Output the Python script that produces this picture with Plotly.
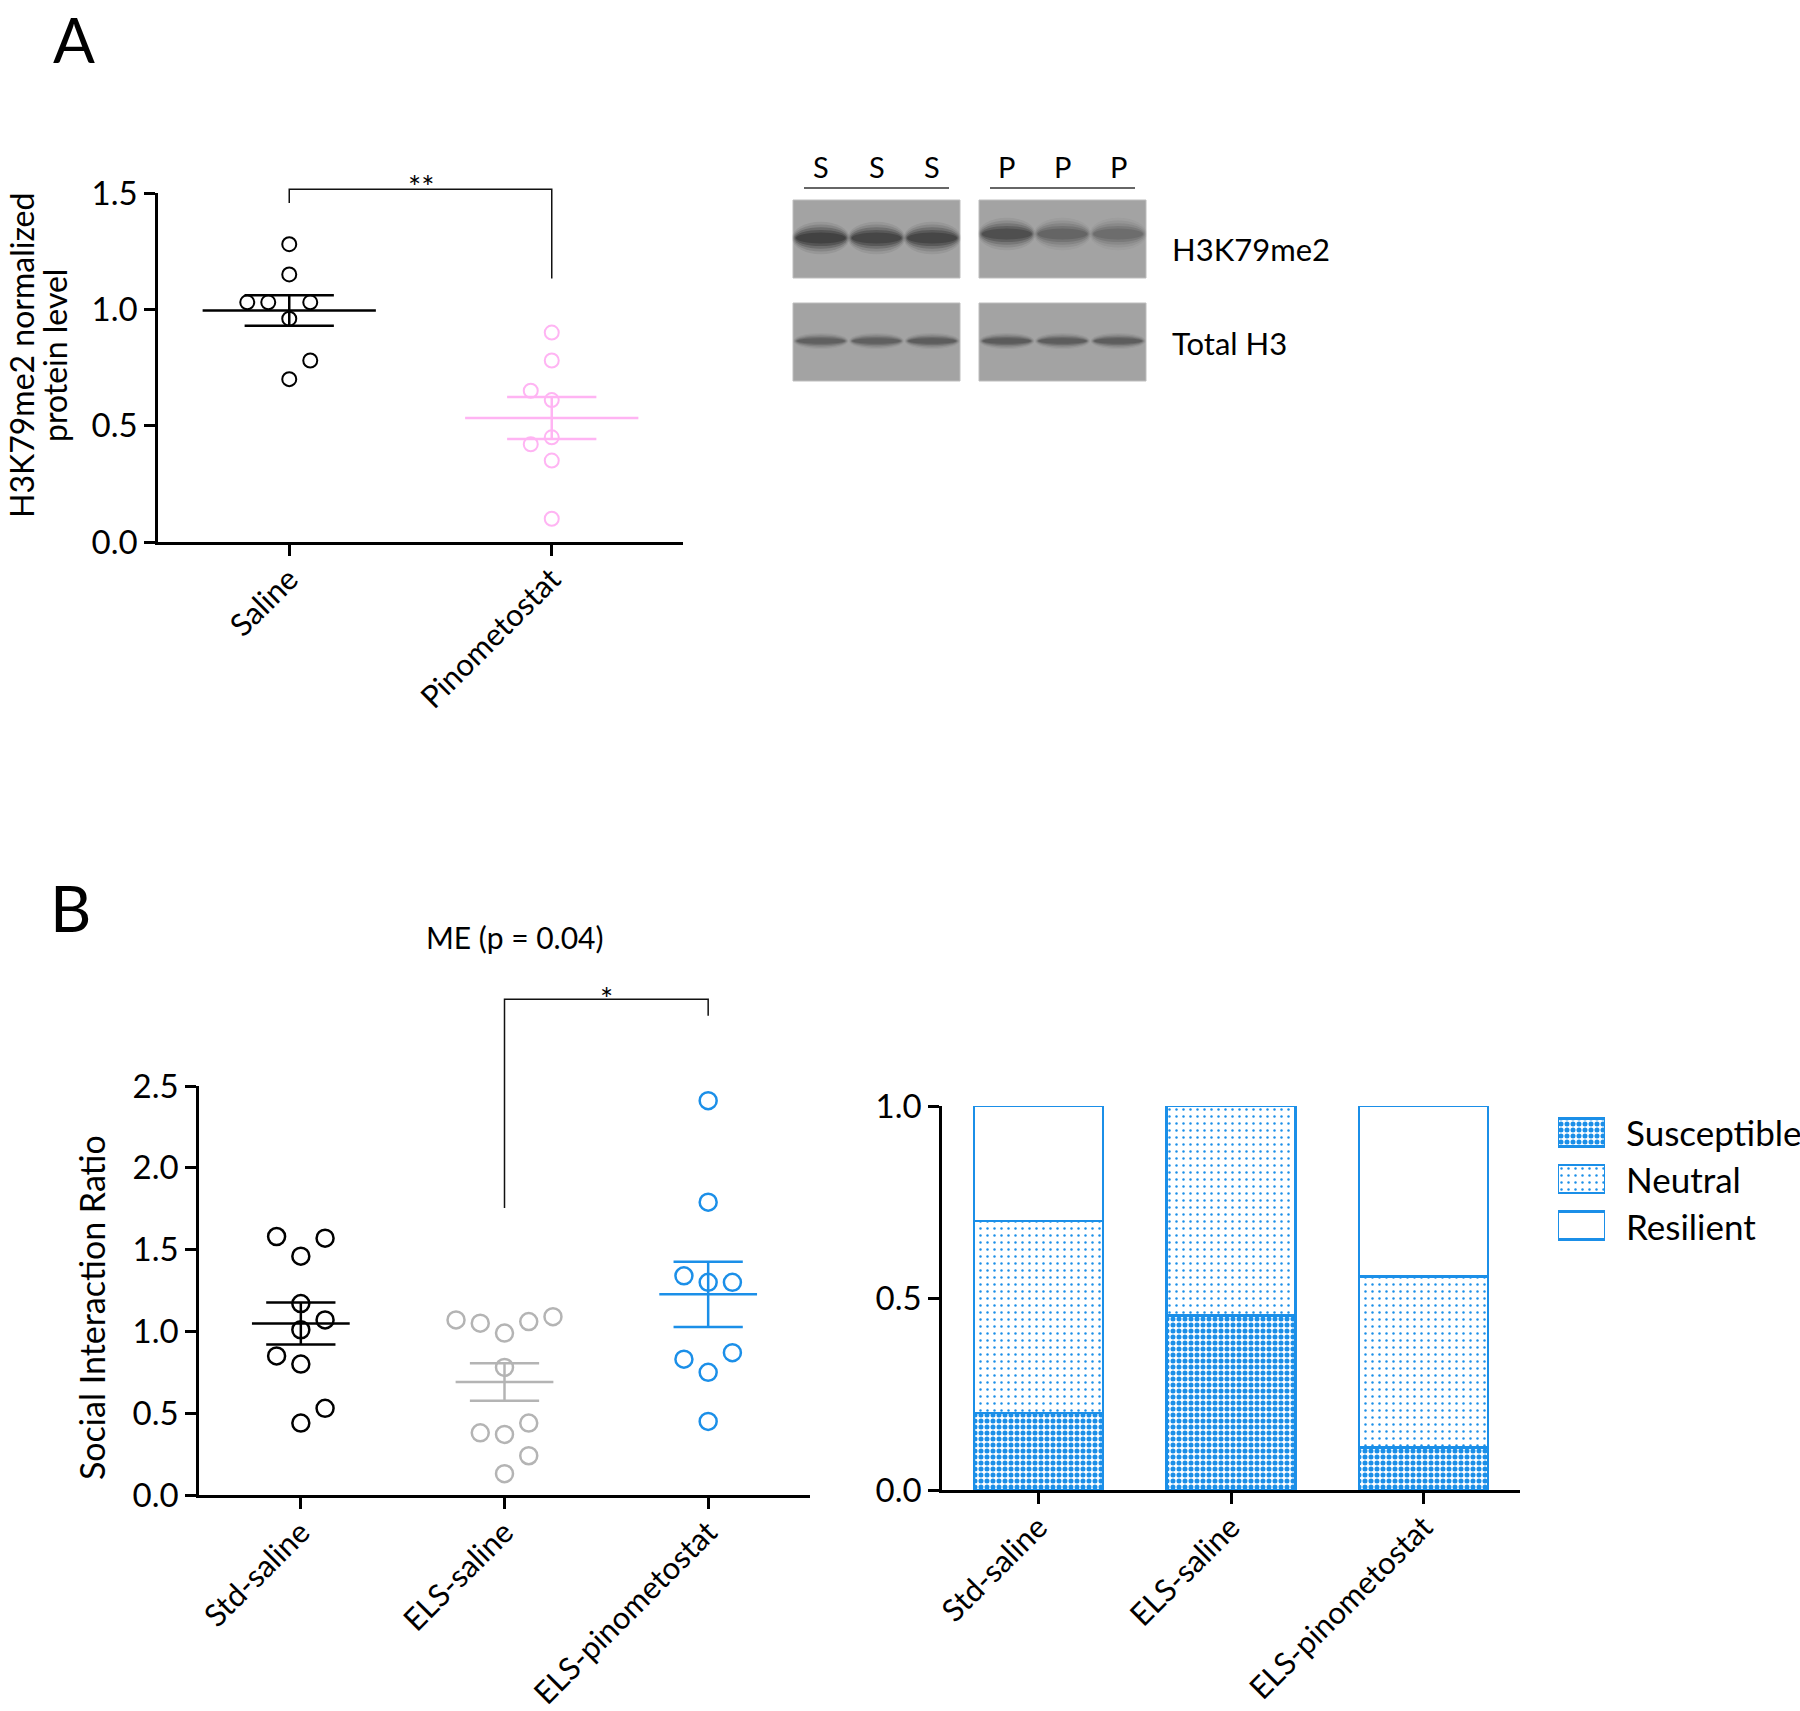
import numpy as np
import plotly.graph_objects as go

# ---------------- data ----------------
# Panel A: H3K79me2 normalized protein level
a_groups = ["Saline", "Pinometostat"]
a_saline = [1.28, 1.15, 1.03, 1.03, 1.03, 0.96, 0.78, 0.70]
a_pino = [0.90, 0.78, 0.65, 0.61, 0.45, 0.42, 0.35, 0.10]
a_yticks = [0.0, 0.5, 1.0, 1.5]

# Panel B: social interaction ratio
b_groups = ["Std-saline", "ELS-saline", "ELS-pinometostat"]
b_std_saline = [1.58, 1.57, 1.46, 1.17, 1.07, 1.01, 0.85, 0.80, 0.53, 0.44]
b_els_saline = [1.07, 1.05, 0.99, 1.06, 1.09, 0.78, 0.44, 0.38, 0.37, 0.24, 0.13]
b_els_pino = [2.41, 1.79, 1.34, 1.30, 1.30, 0.87, 0.83, 0.75, 0.45]
b_yticks = [0.0, 0.5, 1.0, 1.5, 2.0, 2.5]

# Panel B right: phenotype proportions
phenotypes = ["Susceptible", "Neutral", "Resilient"]
prop_susceptible = [2 / 10, 5 / 11, 1 / 9]
prop_neutral = [5 / 10, 6 / 11, 4 / 9]
prop_resilient = [3 / 10, 0 / 11, 4 / 9]
prop_yticks = [0.0, 0.5, 1.0]

# Western blot lanes (S = saline, P = pinometostat), relative band darkness
blot_lanes = ["S", "S", "S", "P", "P", "P"]
blot_h3k79me2 = [0.95, 0.90, 0.90, 0.75, 0.50, 0.42]
blot_total_h3 = [0.55, 0.55, 0.60, 0.62, 0.60, 0.60]
blot_rows = ["H3K79me2", "Total H3"]

# ---------------- layout helpers / styles ----------------
W, H = 1800, 1711
FONT = "Lato"
BLACK = "#000000"
PINK = "#FFB4F3"
GRAY = "#B4B4B4"
BLUE = "#1B8FE8"


def px(x):
    return x / W


def py(y):
    return 1 - y / H


# jitter slots (horizontal spreading of overlapping dots), layout only
jit_a = {"Saline": [0, 0, -2, -1, 1, 0, 1, 0], "Pinometostat": [0, 0, -1, 0, 0, -1, 0, 0]}
jit_b = {
    "Std-saline": [-1, 1, 0, 0, 1, 0, -1, 0, 1, 0],
    "ELS-saline": [-2, -1, 0, 1, 2, 0, 1, -1, 0, 1, 0],
    "ELS-pinometostat": [0, 0, -1, 0, 1, 1, -1, 0, 0],
}

# axis domains (paper)
A_X = [px(158), px(683)]
A_Y = [py(542), py(193)]
A_YR = [0, 1.5]
B_X = [px(199), px(810)]
B_Y = [py(1495), py(1086)]
B_YR = [0, 2.5]
C_X = [px(942), px(1520)]
C_Y = [py(1490), py(1106)]
L_X = [px(1558), px(1605)]
L_Y = [py(1249), py(1109)]
XR2 = [-0.5, 1.5]
XR3 = [-0.5, 2.5]


def to_paper(dom, rng, v):
    return dom[0] + (v - rng[0]) / (rng[1] - rng[0]) * (dom[1] - dom[0])


fig = go.Figure()


def add_dot_group(values, idx, slots, step, color, size, lw, xa, ya, hw_mean, hw_sem):
    vals = np.array(values)
    xs = [idx + s * step for s in slots]
    fig.add_trace(go.Scatter(
        x=xs, y=vals, mode="markers", xaxis=xa, yaxis=ya, showlegend=False,
        marker=dict(symbol="circle-open", size=size, color=color, line=dict(width=lw)),
        cliponaxis=False, hoverinfo="y"))
    m = vals.mean()
    sem = vals.std(ddof=1) / np.sqrt(len(vals))
    lx = [idx - hw_mean, idx + hw_mean, None,
          idx - hw_sem, idx + hw_sem, None,
          idx - hw_sem, idx + hw_sem, None,
          idx, idx]
    ly = [m, m, None, m + sem, m + sem, None, m - sem, m - sem, None, m - sem, m + sem]
    fig.add_trace(go.Scatter(x=lx, y=ly, mode="lines", xaxis=xa, yaxis=ya, showlegend=False,
                             line=dict(color=color, width=2.5), hoverinfo="skip"))


# Panel A dots
add_dot_group(a_saline, 0, jit_a["Saline"], 0.08, BLACK, 14, 2, "x", "y", 0.33, 0.17)
add_dot_group(a_pino, 1, jit_a["Pinometostat"], 0.08, PINK, 14, 2, "x", "y", 0.33, 0.17)

# Panel B dots
b_colors = [BLACK, GRAY, BLUE]
for i, (g, vals) in enumerate(zip(b_groups, [b_std_saline, b_els_saline, b_els_pino])):
    add_dot_group(vals, i, jit_b[g], 0.119, b_colors[i], 17, 2.5, "x2", "y2", 0.24, 0.17)

# Panel B stacked bars
pat_s = dict(shape=".", size=6, solidity=0.55, fgcolor=BLUE, bgcolor="white", fillmode="replace")
pat_n = dict(shape=".", size=7, solidity=0.1, fgcolor=BLUE, bgcolor="white", fillmode="replace")
patterns = [pat_s, pat_n, None]
for name, vals, pat in zip(phenotypes, [prop_susceptible, prop_neutral, prop_resilient], patterns):
    mk = dict(color="white", line=dict(color=BLUE, width=2.5))
    if pat:
        mk["pattern"] = pat
    fig.add_trace(go.Bar(x=[0, 1, 2], y=vals, name=name, xaxis="x3", yaxis="y3", showlegend=False,
                         width=0.67, marker=mk, cliponaxis=False))

# legend swatches (drawn as bars in a small hidden subplot so patterns match)
for r, (name, pat) in enumerate(zip(phenotypes, patterns)):
    mk = dict(color="white", line=dict(color=BLUE, width=2.5))
    if pat:
        mk["pattern"] = pat
    fig.add_trace(go.Bar(x=[1], y=[r], base=[0], orientation="h", xaxis="x4", yaxis="y4", showlegend=False,
                         width=0.6, marker=mk, cliponaxis=False, hoverinfo="skip"))

tickfont = dict(family=FONT, size=33, color=BLACK)
catfont = dict(family=FONT, size=31, color=BLACK)
axcommon = dict(showgrid=False, zeroline=False, showline=True, linecolor=BLACK, linewidth=2.5,
                ticks="outside", tickwidth=2.5, tickcolor=BLACK, ticklen=11, automargin=False)
xcat = dict(tickangle=-45, tickfont=catfont, ticklabelstandoff=-7)
hidden = dict(visible=False, showgrid=False, zeroline=False, automargin=False, fixedrange=True)

fig.update_layout(
    width=W, height=H, margin=dict(l=0, r=0, t=0, b=0, autoexpand=False),
    paper_bgcolor="white", plot_bgcolor="rgba(0,0,0,0)",
    barmode="stack", showlegend=False,
    xaxis=dict(domain=A_X, range=XR2, anchor="y", tickmode="array", tickvals=[0, 1], ticktext=a_groups,
               **xcat, **axcommon),
    yaxis=dict(domain=A_Y, range=A_YR, anchor="x", tickmode="array", tickvals=a_yticks,
               ticktext=[f"{v:.1f}" for v in a_yticks], tickfont=tickfont, **axcommon),
    xaxis2=dict(domain=B_X, range=XR3, anchor="y2", tickmode="array", tickvals=[0, 1, 2], ticktext=b_groups,
                **xcat, **axcommon),
    yaxis2=dict(domain=B_Y, range=B_YR, anchor="x2", tickmode="array", tickvals=b_yticks,
                ticktext=[f"{v:.1f}" for v in b_yticks], tickfont=tickfont, **axcommon),
    xaxis3=dict(domain=C_X, range=XR3, anchor="y3", tickmode="array", tickvals=[0, 1, 2], ticktext=b_groups,
                **xcat, **axcommon),
    yaxis3=dict(domain=C_Y, range=[0, 1], anchor="x3", tickmode="array", tickvals=prop_yticks,
                ticktext=[f"{v:.1f}" for v in prop_yticks], tickfont=tickfont, **axcommon),
    xaxis4=dict(domain=L_X, range=[0, 1], anchor="y4", **hidden),
    yaxis4=dict(domain=L_Y, range=[2.5, -0.5], anchor="x4", **hidden),
    font=dict(family=FONT, color=BLACK),
)

shapes = []
annos = []


def note(text, x, y, size, xanchor="center", yanchor="middle", angle=0):
    annos.append(dict(text=text, x=x, y=y, xref="paper", yref="paper", showarrow=False,
                      xanchor=xanchor, yanchor=yanchor, textangle=angle,
                      font=dict(family=FONT, size=size, color=BLACK)))


def bracket(xdom, xr, ydom, yr, x0, x1, y_left, y_top, y_right):
    X0 = to_paper(xdom, xr, x0)
    X1 = to_paper(xdom, xr, x1)
    pts = [(X0, to_paper(ydom, yr, y_left)), (X0, to_paper(ydom, yr, y_top)),
           (X1, to_paper(ydom, yr, y_top)), (X1, to_paper(ydom, yr, y_right))]
    path = "M " + " L ".join(f"{a},{b}" for a, b in pts)
    shapes.append(dict(type="path", path=path, xref="paper", yref="paper",
                       line=dict(color="#111", width=1.5)))


bracket(A_X, XR2, A_Y, A_YR, 0, 1, 1.457, 1.516, 1.133)
note("**", to_paper(A_X, XR2, 0.5), to_paper(A_Y, A_YR, 1.53), 31)
bracket(B_X, XR3, B_Y, B_YR, 1, 2, 1.754, 3.03, 2.93)
note("*", to_paper(B_X, XR3, 1.5), to_paper(B_Y, B_YR, 3.04), 31)
note("ME (p = 0.04)", to_paper(B_X, XR3, 1.05), to_paper(B_Y, B_YR, 3.41), 30)

# axis titles (two lines of panel A drawn separately for tighter spacing)
note("H3K79me2 normalized", px(21), py(356), 32, angle=-90)
note("protein level", px(54), py(356), 32, angle=-90)
note("Social Interaction Ratio", px(91), py(1308), 34, angle=-90)

# panel letters
note("A", px(74), 1.0, 62, yanchor="top")
note("B", px(70), py(907), 64)

# legend labels
for r, name in enumerate(phenotypes):
    note(name, px(1624), to_paper(L_Y, [2.5, -0.5], r), 35, xanchor="left")

# Western blot illustration
panels = [(793, 960), (979, 1146)]
rows_y = [(200, 278), (303, 381)]
for (x0, x1) in panels:
    for (y0, y1) in rows_y:
        shapes.append(dict(type="rect", xref="paper", yref="paper", x0=px(x0), x1=px(x1), y0=py(y1), y1=py(y0),
                           fillcolor="#A3A3A3", line=dict(color="#BDBDBD", width=1), layer="below"))
    shapes.append(dict(type="line", xref="paper", yref="paper", x0=px(x0 + 11), x1=px(x1 - 11),
                       y0=py(188), y1=py(188), line=dict(color="#333", width=1.5)))

for li, lab in enumerate(blot_lanes):
    pi = li // 3
    x0, x1 = panels[pi]
    cx = x0 + (x1 - x0) * ((li % 3) * 2 + 1) / 6
    note(lab, px(cx), py(166), 29)
    for vals, cy, hh, hw in [(blot_h3k79me2, 238 if pi == 0 else 234, 9, 27), (blot_total_h3, 341, 4.5, 26)]:
        a = vals[li]
        for scale, alpha in [(1.8, 0.08), (1.5, 0.14), (1.2, 0.22), (0.9, 0.28), (0.6, 0.3)]:
            shapes.append(dict(type="circle", xref="paper", yref="paper",
                               x0=px(cx - hw * (0.85 + 0.12 * scale)), x1=px(cx + hw * (0.85 + 0.12 * scale)),
                               y0=py(cy + hh * scale), y1=py(cy - hh * scale),
                               fillcolor=f"rgba(20,20,20,{a * alpha:.3f})", line=dict(width=0), layer="below"))

for lab, yy in zip(blot_rows, [249, 343]):
    note(lab, px(1170), py(yy), 31, xanchor="left")

fig.update_layout(shapes=shapes, annotations=annos)
fig.write_html("out.html", config={"displayModeBar": False},
               post_script="document.body.style.margin='0px';document.body.style.overflow='hidden';")
